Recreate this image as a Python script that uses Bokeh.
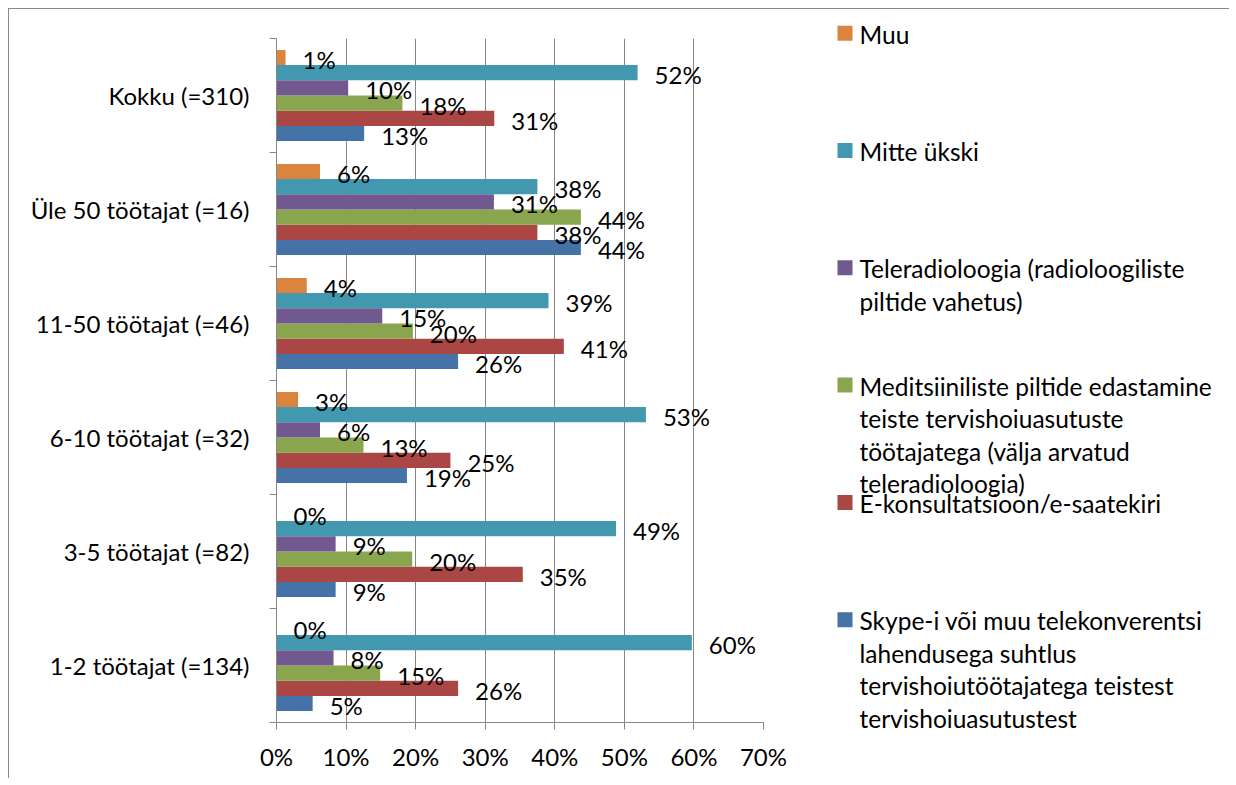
from bokeh.plotting import figure
from bokeh.models import ColumnDataSource, Range1d, FixedTicker
from bokeh.layouts import row
from bokeh.embed import file_html
from bokeh.resources import INLINE
from bokeh.core.properties import value

# ---------------- data ----------------
categories = ["1-2 töötajat (=134)", "3-5 töötajat (=82)", "6-10 töötajat (=32)",
              "11-50 töötajat (=46)", "Üle 50 töötajat (=16)", "Kokku (=310)"]

series_names = [
    "Skype-i või muu telekonverentsi\nlahendusega suhtlus\ntervishoiutöötajatega teistest\ntervishoiuasutustest",
    "E-konsultatsioon/e-saatekiri",
    "Meditsiiniliste piltide edastamine\nteiste tervishoiuasutuste\ntöötajatega (välja arvatud\nteleradioloogia)",
    "Teleradioloogia (radioloogiliste\npiltide vahetus)",
    "Mitte ükski",
    "Muu",
]

skype = [5.2, 8.5, 18.75, 26.1, 43.75, 12.6]
ekons = [26.1, 35.4, 25.0, 41.3, 37.5, 31.3]
medits = [14.9, 19.5, 12.5, 19.6, 43.75, 18.1]
telerad = [8.2, 8.5, 6.25, 15.2, 31.25, 10.3]
mitte = [59.7, 48.8, 53.1, 39.1, 37.5, 51.9]
muu = [0.0, 0.0, 3.1, 4.35, 6.25, 1.3]

x_ticks = [0, 10, 20, 30, 40, 50, 60, 70]

# ---------------- style ----------------
series_values = [skype, ekons, medits, telerad, mitte, muu]
colors = ["#4572A7", "#AA4643", "#89A54E", "#71588F", "#4198AF", "#DB843D"]
FONT = "Lato"
FS = "24px"
FS_LEG = "24.5px"
GRAY = "#868686"
H = 769
ML, MT, MB, MR = 267, 29, 56, 40
FRAME_W = 487
W_MAIN = ML + FRAME_W + MR
W_LEG = 1220 - W_MAIN

p = figure(width=W_MAIN, height=H, x_range=Range1d(0, 70), y_range=Range1d(0, len(categories)),
           output_backend="svg", toolbar_location=None,
           min_border_left=ML, min_border_right=MR, min_border_top=MT, min_border_bottom=MB)
p.frame_align = False
p.outline_line_color = None
p.background_fill_color = "white"
p.border_fill_color = "white"

n = len(series_values)
group = 0.8
bh = group / n
for j, (vals, col) in enumerate(zip(series_values, colors)):
    ys = [i + (1 - group) / 2 + (j + 0.5) * bh for i in range(len(categories))]
    src = ColumnDataSource(dict(y=ys, v=vals, lab=[f"{int(v + 0.5)}%" for v in vals]))
    p.hbar(y="y", left=0, right="v", height=bh, fill_color=col, line_color=None, source=src)
    p.text(x="v", y="y", text="lab", source=src, x_offset=17, y_offset=2,
           text_baseline="middle", text_align="left",
           text_font=value(FONT), text_font_size=FS, text_color="black")

# x axis
p.xaxis.ticker = FixedTicker(ticks=x_ticks)
p.xaxis.major_label_overrides = {t: f"{t}%" for t in x_ticks}
p.xaxis.axis_line_color = GRAY
p.xaxis.major_tick_line_color = GRAY
p.xaxis.major_tick_out = 7
p.xaxis.major_tick_in = 0
p.xaxis.minor_tick_line_color = None
p.xaxis.major_label_standoff = 12
p.xaxis.major_label_text_font = FONT
p.xaxis.major_label_text_font_size = FS
p.xaxis.major_label_text_color = "black"
p.xgrid.ticker = FixedTicker(ticks=x_ticks)
p.xgrid.grid_line_color = GRAY
p.ygrid.grid_line_color = None

# y axis: labels at category centres, ticks at boundaries
p.yaxis.ticker = FixedTicker(ticks=[i + 0.5 for i in range(len(categories))],
                             minor_ticks=list(range(len(categories) + 1)))
p.yaxis.major_label_overrides = {i + 0.5: c for i, c in enumerate(categories)}
p.yaxis.axis_line_color = GRAY
p.yaxis.major_tick_line_color = None
p.yaxis.minor_tick_line_color = GRAY
p.yaxis.minor_tick_out = 7
p.yaxis.minor_tick_in = 0
p.yaxis.major_label_standoff = 20
p.yaxis.major_label_text_font = FONT
p.yaxis.major_label_text_font_size = FS
p.yaxis.major_label_text_color = "black"

# ---------------- legend panel (pixel coordinates) ----------------
leg = figure(width=W_LEG, height=H, x_range=Range1d(0, W_LEG), y_range=Range1d(H, 0),
             output_backend="svg", toolbar_location=None,
             x_axis_location=None, y_axis_location=None, min_border=0)
leg.frame_align = False
leg.grid.visible = False
leg.outline_line_color = None
leg.border_fill_color = "white"
leg.background_fill_color = "white"

LEG_TOP = 23.7
LEG_STEP = 117.3
LINE_H = 32.5
SQ_X = 41.5
SQ = 15
TXT_X = 56

order = list(range(n))[::-1]  # top to bottom: Muu ... Skype
sq_y, sq_c, tx, ty, tt = [], [], [], [], []
for k, j in enumerate(order):
    y0 = LEG_TOP + k * LEG_STEP
    sq_y.append(y0)
    sq_c.append(colors[j])
    for l, line in enumerate(series_names[j].split("\n")):
        tx.append(TXT_X)
        ty.append(y0 + l * LINE_H)
        tt.append(line)

leg.rect(x=SQ_X, y=sq_y, width=SQ, height=SQ, fill_color=sq_c, line_color=None)
leg.text(x=tx, y=ty, text=tt, text_baseline="middle", text_align="left", y_offset=1,
         text_font=value(FONT), text_font_size=FS_LEG, text_color="black")

layout = row(p, leg, styles={"margin-left": "8px", "margin-top": "8px",
                             "border-top": "1px solid #8a8a8a", "border-left": "1px solid #8a8a8a"})

open("out.html", "w").write(file_html(layout, INLINE))
